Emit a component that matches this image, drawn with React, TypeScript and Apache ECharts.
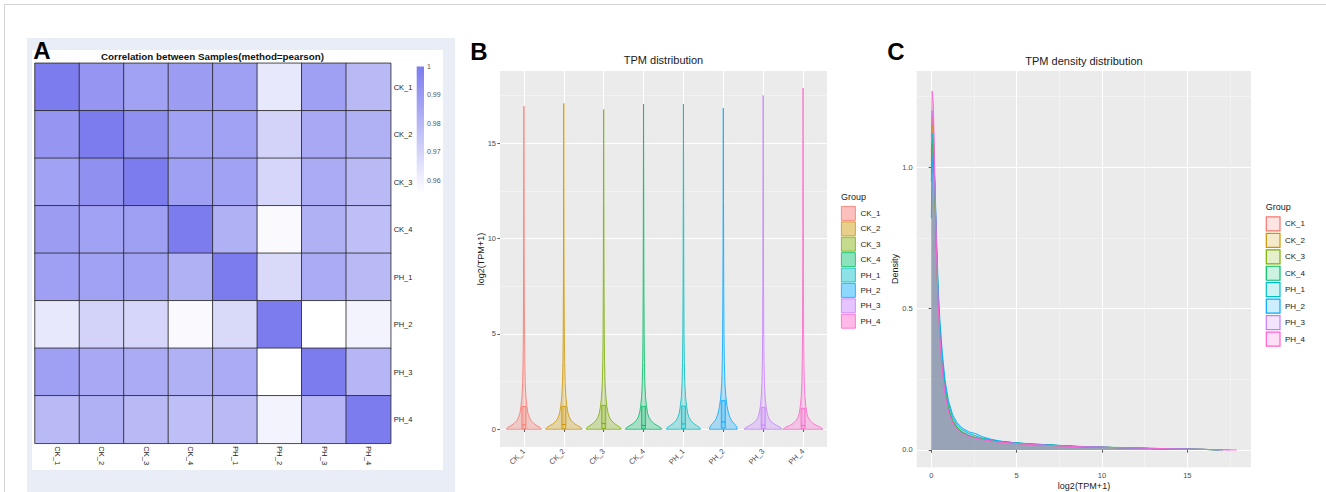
import React, { useEffect, useRef } from "react";
import * as echarts from "echarts";

// ---------- data ----------
const samples = ["CK_1", "CK_2", "CK_3", "CK_4", "PH_1", "PH_2", "PH_3", "PH_4"];
const groupColors = ["#F8766D", "#CD9600", "#7CAE00", "#00BE67", "#00BFC4", "#00A9FF", "#C77CFF", "#FF61CC"];

// Panel A: pearson correlation matrix (rows = samples)
const corrCK1 = [1, 0.991, 0.987, 0.989, 0.988, 0.963, 0.988, 0.979];
const corrCK2 = [0.991, 1, 0.993, 0.987, 0.987, 0.970, 0.985, 0.982];
const corrCK3 = [0.987, 0.993, 1, 0.988, 0.987, 0.969, 0.984, 0.979];
const corrCK4 = [0.989, 0.987, 0.988, 1, 0.982, 0.957, 0.982, 0.977];
const corrPH1 = [0.988, 0.987, 0.987, 0.982, 1, 0.968, 0.984, 0.979];
const corrPH2 = [0.963, 0.970, 0.969, 0.957, 0.968, 1, 0.955, 0.959];
const corrPH3 = [0.988, 0.985, 0.984, 0.982, 0.984, 0.955, 1, 0.980];
const corrPH4 = [0.979, 0.982, 0.979, 0.977, 0.979, 0.959, 0.980, 1];
const corrRows = [corrCK1, corrCK2, corrCK3, corrCK4, corrPH1, corrPH2, corrPH3, corrPH4];
const colorScaleRange = [0.955, 1];
const colorbarTicks = [0.96, 0.97, 0.98, 0.99, 1];
const heatLow = "#ffffff";
const heatHigh = "#7c7cef";

// Panel B: violin profiles (half width in category units at each log2(TPM+1) level)
const violinLevels = [0, 0.1, 0.2, 0.3, 0.45, 0.6, 0.85, 1.2, 1.7, 2.4, 3.5, 5, 8, 12];
const violinCK1 = [0.44, 0.40, 0.32, 0.25, 0.18, 0.14, 0.10, 0.075, 0.05, 0.033, 0.022, 0.015, 0.009, 0.005];
const violinCK2 = [0.46, 0.42, 0.34, 0.26, 0.19, 0.145, 0.105, 0.078, 0.052, 0.034, 0.022, 0.015, 0.009, 0.005];
const violinCK3 = [0.44, 0.41, 0.34, 0.27, 0.20, 0.15, 0.11, 0.08, 0.055, 0.035, 0.023, 0.015, 0.009, 0.005];
const violinCK4 = [0.46, 0.42, 0.34, 0.26, 0.19, 0.14, 0.10, 0.075, 0.05, 0.033, 0.022, 0.015, 0.009, 0.005];
const violinPH1 = [0.43, 0.40, 0.33, 0.26, 0.19, 0.145, 0.105, 0.08, 0.053, 0.035, 0.023, 0.015, 0.009, 0.005];
const violinPH2 = [0.35, 0.34, 0.31, 0.27, 0.21, 0.17, 0.13, 0.095, 0.065, 0.04, 0.026, 0.017, 0.01, 0.005];
const violinPH3 = [0.48, 0.43, 0.34, 0.26, 0.18, 0.135, 0.10, 0.072, 0.048, 0.032, 0.021, 0.014, 0.009, 0.005];
const violinPH4 = [0.50, 0.44, 0.34, 0.25, 0.18, 0.13, 0.095, 0.07, 0.047, 0.031, 0.021, 0.014, 0.009, 0.005];
const violinWidths = [violinCK1, violinCK2, violinCK3, violinCK4, violinPH1, violinPH2, violinPH3, violinPH4];
const tpmMax = [16.95, 17.09, 16.78, 17.06, 17.06, 16.85, 17.51, 17.9];
const boxQ1 = [0.03, 0.03, 0.04, 0.03, 0.04, 0.06, 0.03, 0.03];
const boxMedian = [0.23, 0.25, 0.3, 0.2, 0.28, 0.38, 0.22, 0.2];
const boxQ3 = [1.19, 1.2, 1.25, 1.2, 1.22, 1.5, 1.15, 1.1];
const violinYTicks = [0, 5, 10, 15];
const violinYMinor = [2.5, 7.5, 12.5, 17.5];
const violinXTicks = [1, 2, 3, 4, 5, 6, 7, 8];

// Panel C: density curves
const densX = [0, 0.05, 0.12, 0.2, 0.3, 0.4, 0.5, 0.65, 0.8, 1.0, 1.25, 1.5, 1.8, 2.2, 2.6, 3.0, 3.5, 4.0, 4.5, 5.0, 6.0, 7.0, 8.0, 9.0, 10, 11, 12, 13, 14, 15, 16, 17];
const densCK1 = [1.05, 1.18, 1.14, 0.93, 0.70, 0.52, 0.40, 0.28, 0.205, 0.14, 0.10, 0.078, 0.062, 0.05, 0.043, 0.037, 0.032, 0.028, 0.026, 0.023, 0.019, 0.016, 0.013, 0.011, 0.010, 0.008, 0.007, 0.005, 0.004, 0.003, 0.002, 0.001];
const densCK2 = [1.02, 1.15, 1.12, 0.92, 0.70, 0.52, 0.41, 0.29, 0.21, 0.145, 0.10, 0.08, 0.063, 0.05, 0.043, 0.038, 0.033, 0.029, 0.027, 0.024, 0.019, 0.017, 0.013, 0.011, 0.009, 0.008, 0.007, 0.005, 0.004, 0.003, 0.002, 0.001];
const densCK3 = [0.98, 1.08, 1.08, 0.93, 0.72, 0.54, 0.42, 0.30, 0.215, 0.15, 0.105, 0.082, 0.064, 0.051, 0.044, 0.038, 0.033, 0.030, 0.027, 0.024, 0.020, 0.017, 0.014, 0.011, 0.010, 0.008, 0.007, 0.005, 0.004, 0.003, 0.002, 0.001];
const densCK4 = [1.0, 1.10, 1.09, 0.93, 0.71, 0.53, 0.41, 0.29, 0.21, 0.145, 0.10, 0.08, 0.063, 0.05, 0.043, 0.038, 0.033, 0.030, 0.028, 0.025, 0.021, 0.018, 0.014, 0.011, 0.010, 0.009, 0.007, 0.005, 0.004, 0.003, 0.002, 0.001];
const densPH1 = [0.95, 1.12, 1.10, 0.95, 0.74, 0.56, 0.44, 0.32, 0.235, 0.165, 0.115, 0.09, 0.072, 0.058, 0.05, 0.042, 0.036, 0.031, 0.028, 0.025, 0.020, 0.017, 0.014, 0.011, 0.010, 0.008, 0.007, 0.005, 0.004, 0.003, 0.002, 0.001];
const densPH2 = [0.82, 1.00, 1.05, 0.96, 0.77, 0.58, 0.46, 0.34, 0.25, 0.175, 0.125, 0.097, 0.078, 0.064, 0.058, 0.047, 0.038, 0.032, 0.028, 0.025, 0.021, 0.018, 0.015, 0.012, 0.010, 0.008, 0.007, 0.005, 0.004, 0.003, 0.002, 0.001];
const densPH3 = [1.08, 1.20, 1.17, 0.95, 0.71, 0.52, 0.40, 0.28, 0.20, 0.138, 0.097, 0.076, 0.06, 0.048, 0.042, 0.036, 0.032, 0.028, 0.026, 0.023, 0.019, 0.016, 0.013, 0.011, 0.010, 0.008, 0.007, 0.006, 0.004, 0.003, 0.002, 0.001];
const densPH4 = [1.10, 1.27, 1.22, 0.98, 0.72, 0.52, 0.40, 0.28, 0.20, 0.135, 0.095, 0.075, 0.06, 0.048, 0.042, 0.037, 0.032, 0.028, 0.026, 0.023, 0.019, 0.016, 0.013, 0.011, 0.010, 0.008, 0.007, 0.006, 0.004, 0.003, 0.002, 0.001];
const densities = [densCK1, densCK2, densCK3, densCK4, densPH1, densPH2, densPH3, densPH4];
const densXTicks = [0, 5, 10, 15];
const densXMinor = [2.5, 7.5, 12.5, 17.5];
const densYTicks = [0, 0.5, 1.0];
const densYMinor = [0.25, 0.75, 1.25];

// ---------- helpers ----------
const FONT = "'Liberation Sans', Arial, Helvetica, sans-serif";
function rgba(hex: string, a: number) {
  const n = parseInt(hex.slice(1), 16);
  return `rgba(${(n >> 16) & 255},${(n >> 8) & 255},${n & 255},${a})`;
}

function buildOption() {
  const heatData: number[][] = [];
  corrRows.forEach((row, r) => row.forEach((v, c) => heatData.push([c, r, v])));

  const tickLabel = { color: "#4d4d4d", fontSize: 7.5, fontFamily: FONT };
  const tickStyle = { show: true, length: 2.7, lineStyle: { color: "#333", width: 0.8 } };

  const violinSeries = samples.map((name, i) => ({
    type: "custom",
    name,
    xAxisIndex: 2,
    yAxisIndex: 2,
    clip: false,
    itemStyle: { color: rgba(groupColors[i], 0.35) },
    encode: { x: 0, y: 1 },
    data: [[i + 1, 0]],
    z: 5,
    renderItem: (params: any, api: any) => {
      const cx = api.value(0);
      const hw = violinWidths[i];
      const pts: number[][] = [];
      for (let k = 0; k < violinLevels.length; k++) pts.push(api.coord([cx + hw[k], violinLevels[k]]));
      pts.push(api.coord([cx, tpmMax[i]]));
      for (let k = violinLevels.length - 1; k >= 0; k--) pts.push(api.coord([cx - hw[k], violinLevels[k]]));
      const bw = 0.05;
      const tl = api.coord([cx - bw, boxQ3[i]]);
      const br = api.coord([cx + bw, boxQ1[i]]);
      const m1 = api.coord([cx - bw, boxMedian[i]]);
      const m2 = api.coord([cx + bw, boxMedian[i]]);
      const col = groupColors[i];
      return {
        type: "group",
        children: [
          { type: "polygon", shape: { points: pts }, style: { fill: rgba(col, 0.28), stroke: col, lineWidth: 0.8 } },
          { type: "rect", shape: { x: tl[0], y: tl[1], width: br[0] - tl[0], height: br[1] - tl[1] }, style: { fill: rgba(col, 0.3), stroke: col, lineWidth: 0.8 } },
          { type: "line", shape: { x1: m1[0], y1: m1[1], x2: m2[0], y2: m2[1] }, style: { stroke: col, lineWidth: 1 } },
        ],
      };
    },
  }));

  const densitySeries = samples.map((name, i) => {
    const pts: number[][] = [];
    densX.forEach((x, k) => {
      if (x < tpmMax[i]) pts.push([x, densities[i][k]]);
    });
    pts.push([tpmMax[i], 0]);
    return {
      type: "line",
      name,
      xAxisIndex: 3,
      yAxisIndex: 4,
      data: pts,
      symbol: "none",
      showSymbol: false,
      smooth: false,
      z: 5,
      itemStyle: { color: groupColors[i] },
      lineStyle: { color: groupColors[i], width: 0.9 },
      areaStyle: { color: rgba(groupColors[i], 0.25), origin: "auto" },
    };
  });

  const text = (t: string, x: number, y: number, size: number, extra: any = {}) => ({
    type: "text",
    x,
    y,
    z: 100,
    rotation: extra.rotation || 0,
    style: {
      text: t,
      fontSize: size,
      fontWeight: extra.weight || "normal",
      fontFamily: FONT,
      fill: extra.fill || "#1a1a1a",
      align: extra.align || "center",
      verticalAlign: "middle",
    },
  });

  return {
    animation: false,
    backgroundColor: "#ffffff",
    textStyle: { fontFamily: FONT },
    graphic: [
      { type: "line", z: -1, shape: { x1: 4.5, y1: 4.5, x2: 1326, y2: 4.5 }, style: { stroke: "#d4d4d4", lineWidth: 1 } },
      { type: "line", z: -1, shape: { x1: 4.5, y1: 4.5, x2: 4.5, y2: 492 }, style: { stroke: "#d4d4d4", lineWidth: 1 } },
      { type: "rect", z: -2, shape: { x: 27, y: 38, width: 428, height: 454 }, style: { fill: "#e9edf5" } },
      { type: "rect", z: -1, shape: { x: 32, y: 50, width: 411, height: 420 }, style: { fill: "#ffffff" } },
      text("A", 42, 50, 24, { weight: "bold", fill: "#000" }),
      text("B", 479, 51, 24, { weight: "bold", fill: "#000" }),
      text("C", 896, 51, 24, { weight: "bold", fill: "#000" }),
      text("Correlation between Samples(method=pearson)", 212.5, 56, 9.8, { weight: "bold", fill: "#111" }),
      text("TPM distribution", 663.5, 60, 11),
      text("TPM density distribution", 1084, 60.5, 11),
      text("log2(TPM+1)", 481, 259, 9, { rotation: Math.PI / 2 }),
      text("log2(TPM+1)", 1084, 486, 9),
      text("Density", 895, 269, 9, { rotation: Math.PI / 2 }),
      text("Group", 841, 197, 9, { align: "left" }),
      text("Group", 1265.7, 206.7, 9, { align: "left" }),
    ],
    legend: [
      {
        orient: "vertical",
        left: 841,
        top: 206,
        padding: 0,
        itemWidth: 14,
        itemHeight: 14,
        itemGap: 0.6,
        icon: "rect",
        selectedMode: false,
        textStyle: { fontSize: 8, color: "#1a1a1a", fontFamily: FONT },
        data: samples.map((s, i) => ({
          name: s,
          itemStyle: { color: rgba(groupColors[i], 0.45), borderColor: groupColors[i], borderWidth: 0.8 },
        })),
      },
      {
        orient: "vertical",
        left: 1265.7,
        top: 216.3,
        padding: 0,
        itemWidth: 13.7,
        itemHeight: 14,
        itemGap: 1.25,
        icon: "rect",
        selectedMode: false,
        textStyle: { fontSize: 8, color: "#1a1a1a", fontFamily: FONT },
        data: samples.map((s, i) => ({
          name: s,
          itemStyle: { color: rgba(groupColors[i], 0.2), borderColor: groupColors[i], borderWidth: 1.2 },
          lineStyle: { opacity: 0 },
        })),
      },
    ],
    visualMap: {
      type: "continuous",
      show: false,
      min: colorScaleRange[0],
      max: colorScaleRange[1],
      dimension: 2,
      seriesIndex: 0,
      inRange: { color: [heatLow, heatHigh] },
    },
    grid: [
      { left: 35, top: 63.3, width: 355.7, height: 380 },
      { left: 416.7, top: 66.5, width: 7.3, height: 127.7 },
      { left: 500, top: 71, width: 327, height: 376, show: true, backgroundColor: "#ebebeb", borderWidth: 0 },
      { left: 916.7, top: 71, width: 334.3, height: 396.3, show: true, backgroundColor: "#ebebeb", borderWidth: 0 },
    ],
    xAxis: [
      {
        type: "category", gridIndex: 0, data: samples, position: "bottom",
        axisLine: { show: false }, axisTick: { show: false }, splitLine: { show: false },
        axisLabel: { rotate: -90, fontSize: 7.5, color: "#222", margin: 3 },
      },
      { type: "value", gridIndex: 1, min: 0, max: 1, show: false },
      {
        type: "value", gridIndex: 2, min: 0.4, max: 8.6,
        axisLine: { show: false },
        axisTick: { ...tickStyle, customValues: violinXTicks },
        axisLabel: { ...tickLabel, rotate: 45, margin: 3, customValues: violinXTicks, formatter: (v: number) => samples[Math.round(v) - 1] },
        splitLine: { show: true, lineStyle: { color: "#ffffff", width: 1 } },
      },
      {
        type: "value", gridIndex: 3, min: -0.857, max: 18.73,
        axisLine: { show: false },
        axisTick: { ...tickStyle, customValues: densXTicks },
        axisLabel: { ...tickLabel, margin: 4, customValues: densXTicks },
        splitLine: { show: true, lineStyle: { color: "#ffffff", width: 1 } },
      },
      {
        type: "value", gridIndex: 3, min: -0.857, max: 18.73, position: "top",
        axisLine: { show: false }, axisLabel: { show: false },
        axisTick: { show: false, customValues: densXMinor },
        splitLine: { show: true, lineStyle: { color: "#f7f7f7", width: 0.6 } },
      },
    ],
    yAxis: [
      {
        type: "category", gridIndex: 0, data: samples, inverse: true, position: "right",
        axisLine: { show: false }, axisTick: { show: false }, splitLine: { show: false },
        axisLabel: { fontSize: 7.5, color: "#222", margin: 3 },
      },
      {
        type: "value", gridIndex: 1, min: colorScaleRange[0], max: colorScaleRange[1], position: "right",
        axisLine: { show: false }, axisTick: { show: false, customValues: colorbarTicks }, splitLine: { show: false },
        axisLabel: { fontSize: 7, color: "#555", margin: 3, customValues: colorbarTicks },
      },
      {
        type: "value", gridIndex: 2, min: -0.93, max: 18.79,
        axisLine: { show: false },
        axisTick: { ...tickStyle, customValues: violinYTicks },
        axisLabel: { ...tickLabel, margin: 4, customValues: violinYTicks },
        splitLine: { show: true, lineStyle: { color: "#ffffff", width: 1 } },
      },
      {
        type: "value", gridIndex: 2, min: -0.93, max: 18.79, position: "right",
        axisLine: { show: false }, axisLabel: { show: false },
        axisTick: { show: false, customValues: violinYMinor },
        splitLine: { show: true, lineStyle: { color: "#f7f7f7", width: 0.6 } },
      },
      {
        type: "value", gridIndex: 3, min: -0.0612, max: 1.3406,
        axisLine: { show: false },
        axisTick: { ...tickStyle, customValues: densYTicks },
        axisLabel: { ...tickLabel, margin: 4, customValues: densYTicks, formatter: (v: number) => v.toFixed(1) },
        splitLine: { show: true, lineStyle: { color: "#ffffff", width: 1 } },
      },
      {
        type: "value", gridIndex: 3, min: -0.0612, max: 1.3406, position: "right",
        axisLine: { show: false }, axisLabel: { show: false },
        axisTick: { show: false, customValues: densYMinor },
        splitLine: { show: true, lineStyle: { color: "#f7f7f7", width: 0.6 } },
      },
    ],
    series: [
      {
        type: "heatmap",
        xAxisIndex: 0,
        yAxisIndex: 0,
        data: heatData,
        itemStyle: { borderColor: "#222", borderWidth: 0.8 },
        emphasis: { disabled: true },
      },
      {
        type: "custom",
        xAxisIndex: 1,
        yAxisIndex: 1,
        data: [[colorScaleRange[0], colorScaleRange[1]]],
        encode: { y: [0, 1] },
        renderItem: (params: any, api: any) => {
          const p1 = api.coord([0, api.value(1)]);
          const p2 = api.coord([1, api.value(0)]);
          return {
            type: "rect",
            shape: { x: p1[0], y: p1[1], width: p2[0] - p1[0], height: p2[1] - p1[1] },
            style: {
              fill: new echarts.graphic.LinearGradient(0, 0, 0, 1, [
                { offset: 0, color: heatHigh },
                { offset: 1, color: heatLow },
              ]),
            },
          };
        },
      },
      ...violinSeries,
      ...densitySeries,
    ],
  };
}

export default function App() {
  const ref = useRef<HTMLDivElement>(null);
  useEffect(() => {
    if (!ref.current) return;
    const chart = echarts.init(ref.current, undefined, { renderer: "svg" });
    chart.setOption(buildOption() as any);
    return () => chart.dispose();
  }, []);
  return (
    <div
      ref={ref}
      style={{ position: "absolute", left: 0, top: 0, width: 1326, height: 492, background: "#fff" }}
    />
  );
}
